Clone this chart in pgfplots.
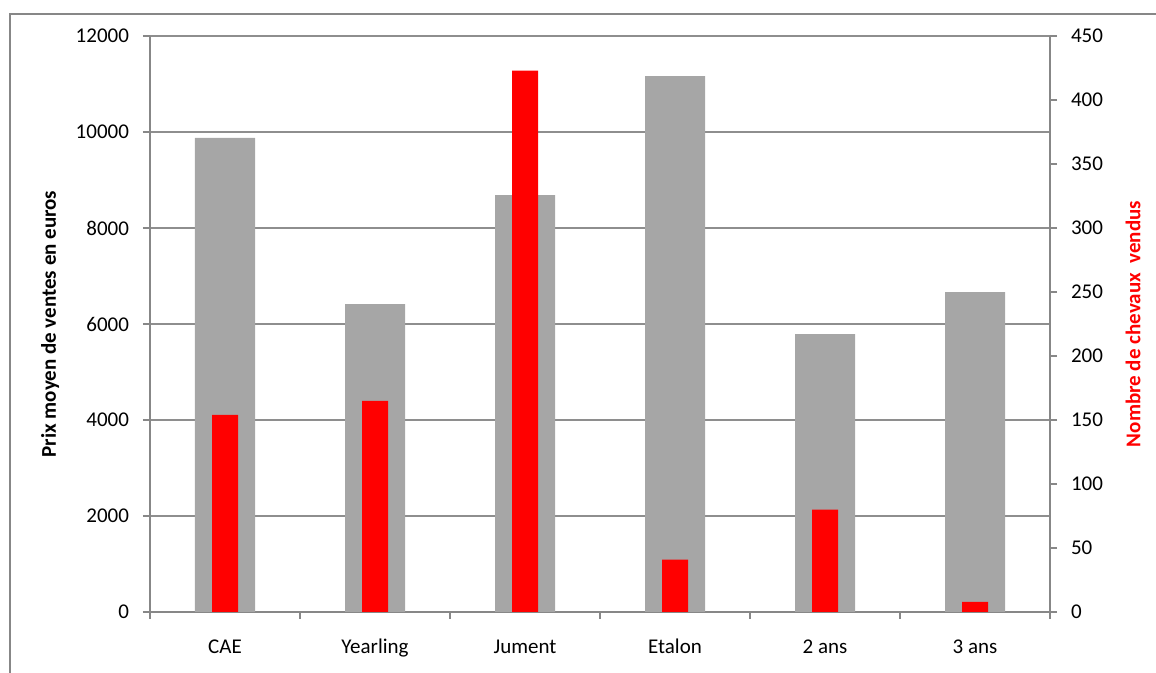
\documentclass[border=0pt]{standalone}
\usepackage{pgfplots}
\pgfplotsset{compat=1.18}
\usepackage{fontspec}
\setmainfont{Carlito}
\definecolor{graybar}{HTML}{A6A6A6}
\definecolor{axisgray}{HTML}{878787}
\definecolor{gridgray}{HTML}{8E8E8E}
\pgfplotstableread{
x price
0 9875
1 6415
2 8685
3 11165
4 5790
5 6665
}\pricetable
\pgfplotstableread{
x count
0 154
1 165
2 423
3 41
4 80
5 8
}\counttable
\begin{document}
\begin{tikzpicture}
\useasboundingbox (-75pt,-30.5pt) rectangle (503pt,306pt);
\draw[axisgray, line width=0.9pt] (-70pt,-40pt) -- (-70pt,299pt) -- (510pt,299pt);
\pgfplotsset{
  common/.style={
    width=450pt, height=288pt, scale only axis,
    at={(0pt,0pt)}, anchor=south west,
    xmin=-0.5, xmax=5.5,
    /pgf/number format/assume math mode=true,
    /pgf/number format/set thousands separator={},
    scaled y ticks=false,
    tick label style={font=\fontsize{10.5}{12}\selectfont, text=black},
    axis line style={axisgray, line width=1pt},
    tick style={axisgray, line width=0.9pt},
    tick align=outside,
    major tick length=3.5pt,
  }
}
\begin{axis}[common,
  ymin=0, ymax=12000,
  ytick={0,2000,...,12000},
  axis x line*=bottom, axis y line*=left,
  ymajorgrids, grid style={gridgray, line width=0.6pt},
  xtick={-0.5,0.5,...,5.5}, xticklabels={},
  extra x ticks={0,1,2,3,4,5},
  extra x tick labels={CAE,Yearling,Jument,Etalon,2 ans,3 ans},
  extra x tick style={major tick length=0pt, grid=none,
     xticklabel style={anchor=base, yshift=-21pt}},
  yticklabel style={xshift=-3.5pt},
  ylabel={\bfseries Prix moyen de ventes en euros},
  ylabel style={at={(axis description cs:-0.111,0.5)}, anchor=center,
     font=\fontsize{10.5}{12}\selectfont},
]
\addplot[ybar, bar width=30pt, fill=graybar, draw=none] table[x=x, y=price] {\pricetable};
\end{axis}
\begin{axis}[common,
  ymin=0, ymax=450,
  ytick={0,50,...,450},
  axis x line=none, axis y line*=right,
  yticklabel style={xshift=3.5pt},
  ylabel={\bfseries Nombre de chevaux\ \ vendus},
  ylabel style={at={(axis description cs:1.0922,0.5)}, anchor=center,
     font=\fontsize{10.5}{12}\selectfont, text=red},
]
\addplot[ybar, bar width=13pt, fill=red, draw=none] table[x=x, y=count] {\counttable};
\end{axis}
\end{tikzpicture}
\end{document}
